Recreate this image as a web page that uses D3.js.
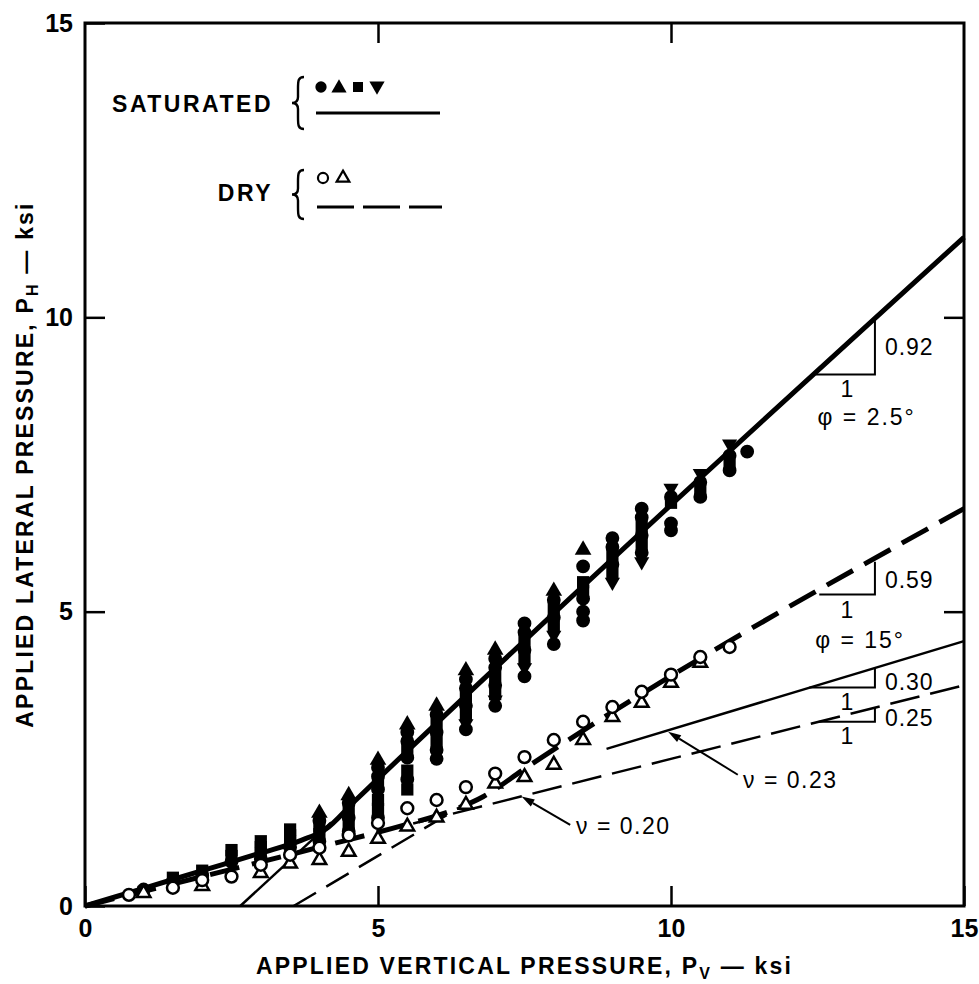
<!DOCTYPE html>
<html>
<head>
<meta charset="utf-8">
<script src="https://cdn.jsdelivr.net/npm/d3@7"></script>
<style>
  body { margin: 0; background: #fff; }
  svg { display: block; }
  text { font-family: "Liberation Sans", Arial, sans-serif; fill: #000; }
</style>
</head>
<body>
<svg id="chart" width="979" height="984"></svg>
<script>
// ---- data (ksi) ----
var xTicks = [0, 5, 10, 15];
var yTicks = [0, 5, 10, 15];

// saturated samples (filled symbols)
var satCircles = [
  [1.0, 0.28], [1.5, 0.42], [2.0, 0.52], [2.5, 0.75], [3.0, 0.8], [3.5, 1.0],
  [4.0, 1.1], [4.0, 1.45], [4.5, 1.27], [4.5, 1.5], [4.5, 1.75],
  [5.0, 1.5], [5.0, 1.98], [5.0, 2.2], [5.0, 2.35],
  [5.5, 2.15], [5.5, 2.52], [5.5, 2.8], [5.5, 2.95],
  [6.0, 2.5], [6.0, 2.65], [6.0, 2.95], [6.0, 3.25],
  [6.5, 3.0], [6.5, 3.4], [6.5, 3.7], [6.5, 3.85],
  [7.0, 3.4], [7.0, 3.75], [7.0, 4.05], [7.0, 4.2],
  [7.5, 3.9], [7.5, 4.35], [7.5, 4.65], [7.5, 4.8],
  [8.0, 4.45], [8.0, 4.9], [8.0, 5.2],
  [8.5, 4.85], [8.5, 5.0], [8.5, 5.22], [8.5, 5.77],
  [9.0, 5.8], [9.0, 6.1], [9.0, 6.25],
  [9.5, 6.0], [9.5, 6.3], [9.5, 6.6], [9.5, 6.75],
  [10.0, 6.38], [10.0, 6.5], [10.0, 6.95],
  [10.5, 6.95], [10.5, 7.2],
  [11.0, 7.4], [11.0, 7.65],
  [11.3, 7.72]
];
var satTriangles = [
  [4.0, 1.58], [4.5, 1.88], [5.0, 2.48], [5.5, 3.08], [6.0, 3.4],
  [6.5, 4.0], [7.0, 4.35], [8.0, 5.35], [8.5, 6.05]
];
var satSquares = [
  [1.0, 0.24], [1.5, 0.48], [2.0, 0.6], [2.5, 0.85], [2.5, 0.95],
  [3.0, 0.9], [3.0, 1.0], [3.0, 1.1], [3.5, 1.1], [3.5, 1.2], [3.5, 1.3],
  [4.0, 1.22], [4.0, 1.35], [4.5, 1.38], [4.5, 1.6],
  [5.0, 1.65], [5.0, 1.8], [5.0, 2.08], [5.5, 1.98], [5.5, 2.3], [5.5, 2.65],
  [6.0, 2.8], [6.0, 3.1], [6.5, 3.25], [6.5, 3.55], [7.0, 3.6], [7.0, 3.9],
  [7.5, 4.2], [7.5, 4.5], [8.0, 4.75], [8.0, 5.05], [8.5, 5.35], [8.5, 5.5],
  [9.0, 5.65], [9.0, 5.95], [9.5, 6.15], [9.5, 6.45], [10.0, 6.85],
  [10.5, 7.05], [11.0, 7.5]
];
var satInverted = [
  [6.5, 3.1], [7.0, 3.5], [7.5, 4.05], [8.0, 4.6], [9.0, 5.5],
  [9.5, 5.85], [10.0, 7.1], [10.5, 7.35], [11.0, 7.85]
];

// dry samples (open symbols)
var dryCircles = [
  [0.75, 0.19], [1.5, 0.31], [2.0, 0.44], [2.5, 0.5], [3.0, 0.7], [3.5, 0.87],
  [4.0, 0.99], [4.5, 1.2], [5.0, 1.41], [5.5, 1.66], [6.0, 1.8], [6.5, 2.02],
  [7.0, 2.25], [7.5, 2.53], [8.0, 2.82], [8.5, 3.13], [9.0, 3.38], [9.5, 3.64],
  [10.0, 3.93], [10.5, 4.23], [11.0, 4.4]
];
var dryTriangles = [
  [1.0, 0.22], [2.0, 0.34], [3.0, 0.56], [3.5, 0.72], [4.0, 0.78], [4.5, 0.92],
  [5.0, 1.14], [5.5, 1.35], [6.0, 1.5], [6.5, 1.72], [7.0, 2.08], [7.5, 2.19],
  [8.0, 2.4], [8.5, 2.82], [9.0, 3.21], [9.5, 3.45], [10.0, 3.79], [10.5, 4.13]
];

// fitted curves
var satCurve = [[0, 0], [1, 0.3], [2, 0.6], [3, 0.9], [3.7, 1.12], [4.1, 1.3], [4.6, 1.78], [5, 2.16], [15, 11.36]];
var dryCurve = [[0, 0], [2, 0.5], [4, 1.0], [5.5, 1.39], [6.2, 1.6], [6.8, 1.86], [7.5, 2.33], [15, 6.75]];
var satExtension = [[2.65, 0], [4.2, 1.42]];
var dryExtension = [[3.56, 0], [6.4, 1.68]];
var nu023Line = [[8.9, 2.67], [15, 4.5]];
var nu020Line = [[5.6, 1.4], [15, 3.75]];

// slope triangles [x0, y0, x1, y1] and their labels
var slopeTriangles = [
  [12.47, 9.03, 13.48, 9.96],
  [12.53, 5.29, 13.48, 5.85],
  [12.36, 3.71, 13.48, 4.04],
  [12.52, 3.13, 13.48, 3.37]
];
var slopeLabels = ['0.92', '0.59', '0.30', '0.25'];
var slopeLabelY = [9.5, 5.54, 3.81, 3.2];
var unitLabelY = [8.78, 5.03, 3.47, 2.89];
var phiLabels = [['\u03c6 = 2.5\u00b0', 12.5, 8.3], ['\u03c6 = 15\u00b0', 12.46, 4.52]];
var nuLabels = [['\u03bd = 0.23', 11.23, 2.14], ['\u03bd = 0.20', 8.38, 1.36]];
var nuArrows = [[[11.14, 2.23], [9.95, 2.96]], [[8.28, 1.38], [7.45, 1.86]]];

var svg = d3.select('#chart');
var x = d3.scaleLinear().domain([0, 15]).range([85, 964]);
var y = d3.scaleLinear().domain([0, 15]).range([906, 23]);

var line = d3.line().x(function(d) { return x(d[0]); }).y(function(d) { return y(d[1]); });
var smooth = d3.line().curve(d3.curveMonotoneX).x(function(d) { return x(d[0]); }).y(function(d) { return y(d[1]); });

/*
 * Frame and inward ticks
 */
svg.append('rect')
  .attr('x', x(0)).attr('y', y(15))
  .attr('width', x(15) - x(0)).attr('height', y(0) - y(15))
  .attr('fill', 'none').attr('stroke', '#000').attr('stroke-width', 3);

function styleAxis(g) {
  g.select('.domain').remove();
  g.selectAll('.tick line').attr('stroke', '#000').attr('stroke-width', 2.5);
  g.selectAll('.tick text')
    .attr('font-size', 25).attr('font-weight', 'bold')
    .style('font-family', '"Liberation Sans", Arial, sans-serif');
}

svg.append('g').attr('transform', 'translate(0,' + y(0) + ')')
  .call(d3.axisBottom(x).tickValues(xTicks).tickSize(-20).tickPadding(13).tickFormat(d3.format('d')))
  .call(styleAxis);
svg.append('g').attr('transform', 'translate(' + x(0) + ',0)')
  .call(d3.axisLeft(y).tickValues(yTicks).tickSize(-20).tickPadding(12).tickFormat(d3.format('d')))
  .call(styleAxis);
svg.append('g').attr('transform', 'translate(0,' + y(15) + ')')
  .call(d3.axisTop(x).tickValues([5, 10]).tickSize(-20).tickFormat(''))
  .call(styleAxis);
svg.append('g').attr('transform', 'translate(' + x(15) + ',0)')
  .call(d3.axisRight(y).tickValues([5, 10]).tickSize(-20).tickFormat(''))
  .call(styleAxis);

/*
 * Axis titles
 */
var xTitle = svg.append('text')
  .attr('x', x(7.5)).attr('y', 974)
  .attr('text-anchor', 'middle')
  .attr('font-size', 23).attr('font-weight', 'bold').attr('letter-spacing', 2.2);
xTitle.append('tspan').text('APPLIED VERTICAL PRESSURE, P');
xTitle.append('tspan').attr('font-size', 16).attr('dy', 5).text('V');
xTitle.append('tspan').attr('dy', -5).text(' \u2014 ksi');

var yTitle = svg.append('text')
  .attr('transform', 'translate(33,' + y(7.5) + ') rotate(-90)')
  .attr('text-anchor', 'middle')
  .attr('font-size', 23).attr('font-weight', 'bold').attr('letter-spacing', 2.2);
yTitle.append('tspan').text('APPLIED LATERAL PRESSURE, P');
yTitle.append('tspan').attr('font-size', 16).attr('dy', 5).text('H');
yTitle.append('tspan').attr('dy', -5).text(' \u2014 ksi');

/*
 * Lines
 */
var lines = svg.append('g').attr('fill', 'none').attr('stroke', '#000');
lines.append('path').attr('d', smooth(satCurve)).attr('stroke-width', 5);
lines.append('path').attr('d', smooth(dryCurve)).attr('stroke-width', 5).attr('stroke-dasharray', '30,13');
lines.append('path').attr('d', line(satExtension)).attr('stroke-width', 2.5);
lines.append('path').attr('d', line(dryExtension)).attr('stroke-width', 2.5).attr('stroke-dasharray', '26,12');
lines.append('path').attr('d', line(nu023Line)).attr('stroke-width', 2.5);
lines.append('path').attr('d', line(nu020Line)).attr('stroke-width', 2.5).attr('stroke-dasharray', '30,11');

/*
 * Slope triangles and labels
 */
lines.selectAll('.slope').data(slopeTriangles).enter().append('path')
  .attr('class', 'slope')
  .attr('stroke-width', 2)
  .attr('d', function(d) {
    return 'M' + x(d[0]) + ',' + y(d[1]) + 'H' + x(d[2]) + 'V' + y(d[3]);
  });

var notes = svg.append('g').attr('font-size', 23).attr('dominant-baseline', 'central');
notes.selectAll('.slope-label').data(slopeLabels).enter().append('text')
  .attr('x', x(13.65)).attr('y', function(d, i) { return y(slopeLabelY[i]); })
  .attr('letter-spacing', 1)
  .text(function(d) { return d; });
notes.selectAll('.unit-label').data(unitLabelY).enter().append('text')
  .attr('x', x(13.0)).attr('y', function(d) { return y(d); })
  .attr('text-anchor', 'middle')
  .text('1');
notes.selectAll('.phi').data(phiLabels).enter().append('text')
  .attr('x', function(d) { return x(d[1]); }).attr('y', function(d) { return y(d[2]); })
  .attr('letter-spacing', 2)
  .text(function(d) { return d[0]; });
notes.selectAll('.nu').data(nuLabels).enter().append('text')
  .attr('x', function(d) { return x(d[1]); }).attr('y', function(d) { return y(d[2]); })
  .attr('letter-spacing', 1.5)
  .text(function(d) { return d[0]; });

nuArrows.forEach(function(a) {
  var x0 = x(a[0][0]), y0 = y(a[0][1]), x1 = x(a[1][0]), y1 = y(a[1][1]);
  var ang = Math.atan2(y1 - y0, x1 - x0);
  var len = 13, half = 4;
  var bx = x1 - len * Math.cos(ang), by = y1 - len * Math.sin(ang);
  svg.append('line').attr('x1', x0).attr('y1', y0).attr('x2', bx).attr('y2', by)
    .attr('stroke', '#000').attr('stroke-width', 2);
  svg.append('path')
    .attr('d', 'M' + x1 + ',' + y1 +
      'L' + (bx + half * Math.sin(ang)) + ',' + (by - half * Math.cos(ang)) +
      'L' + (bx - half * Math.sin(ang)) + ',' + (by + half * Math.cos(ang)) + 'Z')
    .attr('fill', '#000');
});

/*
 * Markers
 */
var sym = {
  circle: d3.symbol().type(d3.symbolCircle).size(150),
  triangle: d3.symbol().type(d3.symbolTriangle).size(120),
  inverted: d3.symbol().type(d3.symbolTriangle).size(100),
  square: d3.symbol().type(d3.symbolSquare).size(150),
  openCircle: d3.symbol().type(d3.symbolCircle).size(110),
  openTriangle: d3.symbol().type(d3.symbolTriangle).size(80)
};

function drawMarkers(data, gen, rotate, open) {
  svg.append('g').selectAll('path').data(data).enter().append('path')
    .attr('d', gen)
    .attr('transform', function(d) {
      return 'translate(' + x(d[0]) + ',' + y(d[1]) + ')' + (rotate ? ' rotate(180)' : '');
    })
    .attr('fill', open ? '#fff' : '#000')
    .attr('stroke', '#000')
    .attr('stroke-width', open ? 2.5 : 0);
}

drawMarkers(satSquares, sym.square, false, false);
drawMarkers(satInverted, sym.inverted, true, false);
drawMarkers(satCircles, sym.circle, false, false);
drawMarkers(satTriangles, sym.triangle, false, false);
drawMarkers(dryTriangles, sym.openTriangle, false, true);
drawMarkers(dryCircles, sym.openCircle, false, true);

/*
 * Legend
 */
var legend = svg.append('g');
legend.append('text').attr('x', 273).attr('y', 104).attr('text-anchor', 'end')
  .attr('dominant-baseline', 'central')
  .attr('font-size', 23).attr('font-weight', 'bold').attr('letter-spacing', 2.5)
  .text('SATURATED');
legend.append('text').attr('x', 273).attr('y', 193).attr('text-anchor', 'end')
  .attr('dominant-baseline', 'central')
  .attr('font-size', 23).attr('font-weight', 'bold').attr('letter-spacing', 2.5)
  .text('DRY');

function brace(top, bottom) {
  var mid = (top + bottom) / 2;
  return 'M304,' + top + ' C298,' + top + ' 298,' + (top + 4) + ' 298,' + (top + 12) +
    ' L298,' + (mid - 6) + ' C298,' + (mid - 2) + ' 296,' + mid + ' 292,' + mid +
    ' C296,' + mid + ' 298,' + (mid + 2) + ' 298,' + (mid + 6) +
    ' L298,' + (bottom - 12) + ' C298,' + (bottom - 4) + ' 298,' + bottom + ' 304,' + bottom;
}
legend.append('path').attr('d', brace(77, 129)).attr('fill', 'none').attr('stroke', '#000').attr('stroke-width', 2.4);
legend.append('path').attr('d', brace(170, 219)).attr('fill', 'none').attr('stroke', '#000').attr('stroke-width', 2.4);

var legendSat = [[d3.symbolCircle, 321, 87, false], [d3.symbolTriangle, 339, 88, false],
                 [d3.symbolSquare, 358, 87, false], [d3.symbolTriangle, 377, 86, true]];
legendSat.forEach(function(s) {
  legend.append('path').attr('d', d3.symbol().type(s[0]).size(100)())
    .attr('transform', 'translate(' + s[1] + ',' + s[2] + ')' + (s[3] ? ' rotate(180)' : ''))
    .attr('fill', '#000');
});
legend.append('path').attr('d', d3.symbol().type(d3.symbolCircle).size(80)())
  .attr('transform', 'translate(323,178)').attr('fill', '#fff').attr('stroke', '#000').attr('stroke-width', 2.2);
legend.append('path').attr('d', d3.symbol().type(d3.symbolTriangle).size(70)())
  .attr('transform', 'translate(343,178)').attr('fill', '#fff').attr('stroke', '#000').attr('stroke-width', 2.2);

legend.append('line').attr('x1', 316).attr('x2', 440).attr('y1', 113).attr('y2', 113)
  .attr('stroke', '#000').attr('stroke-width', 3);
legend.append('line').attr('x1', 317).attr('x2', 442).attr('y1', 207).attr('y2', 207)
  .attr('stroke', '#000').attr('stroke-width', 3).attr('stroke-dasharray', '37,9');
</script>
</body>
</html>
